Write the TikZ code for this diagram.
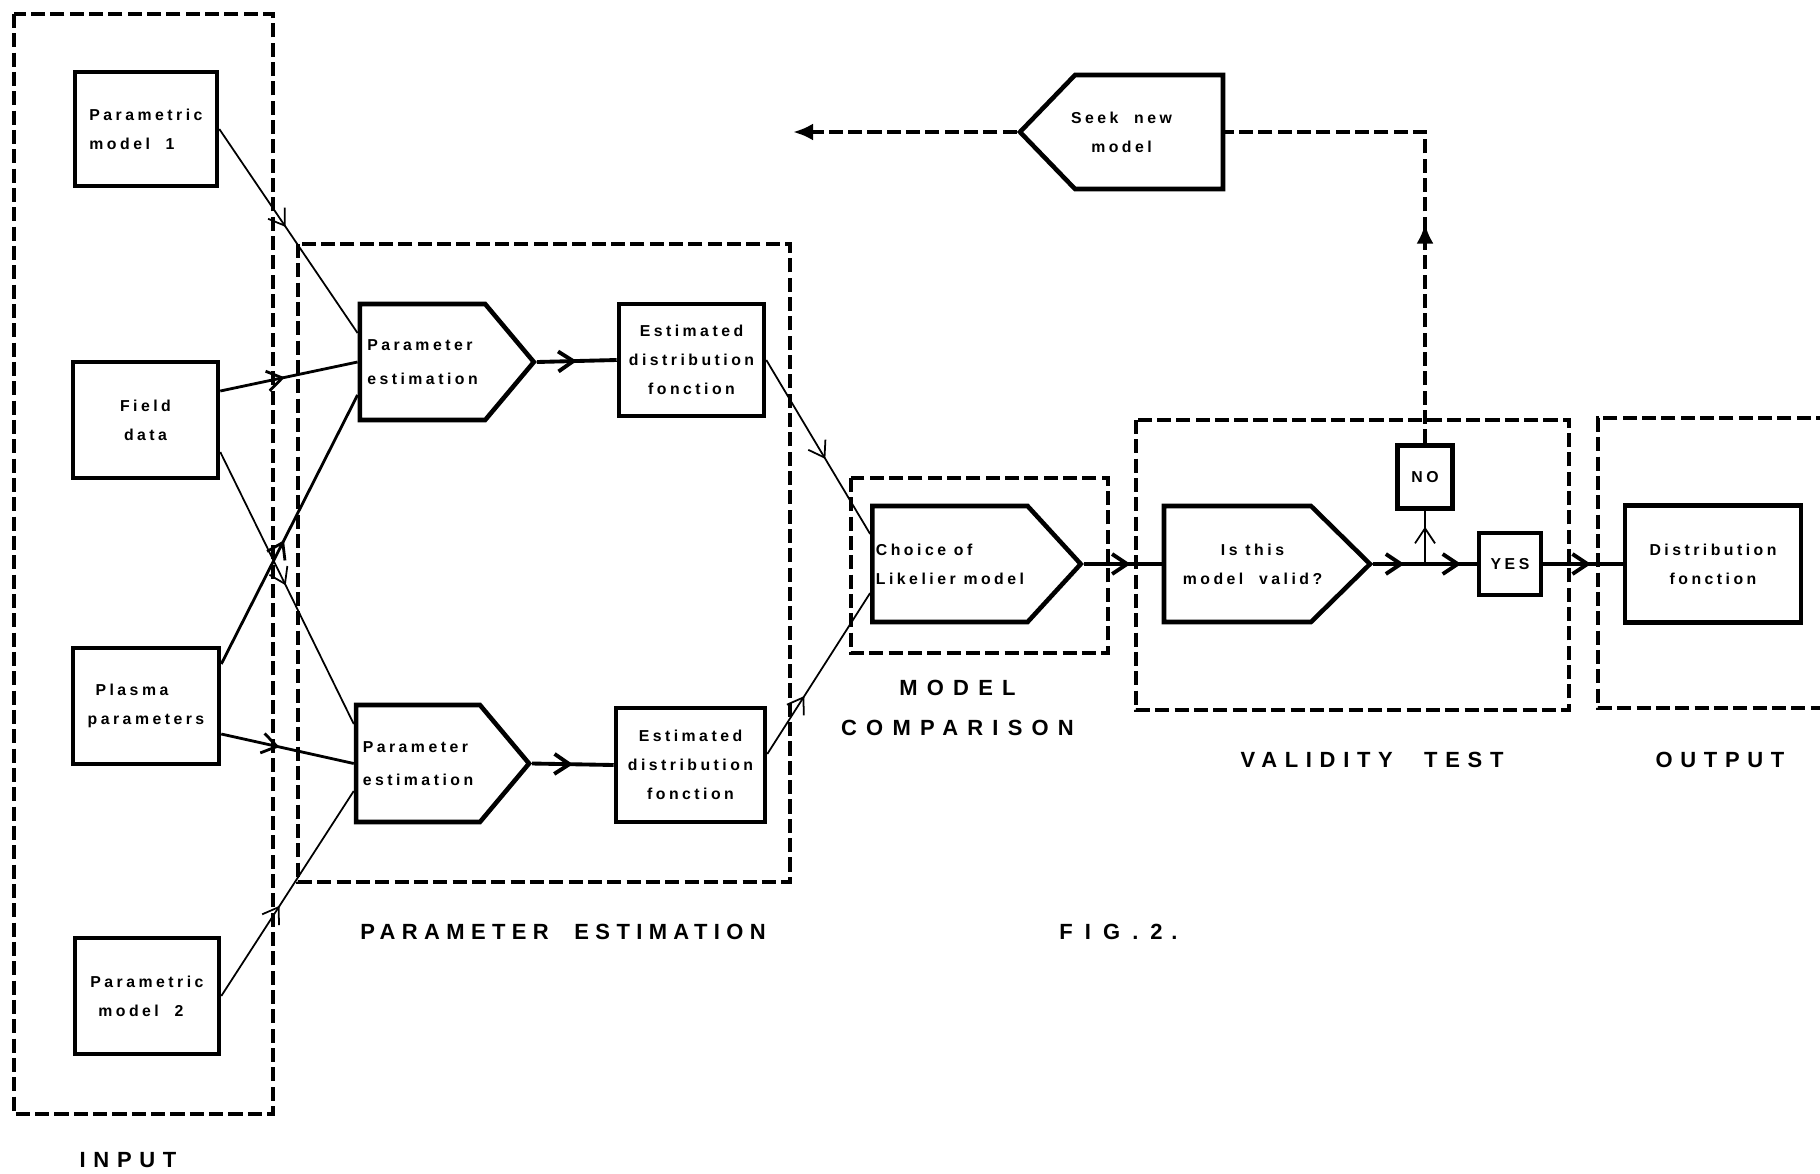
\documentclass[tikz,border=0pt]{standalone}
\usepackage{fontspec}
\setmainfont{Liberation Sans}
\newfontfamily\boxfont[LetterSpace=22]{Liberation Sans}
\newfontfamily\capfont[LetterSpace=35]{Liberation Sans}
\usetikzlibrary{arrows.meta,shapes.symbols,decorations.markings}

\tikzset{
  blk/.style={draw, line width=2.6pt, inner sep=2pt, align=center,
    font=\boxfont\bfseries\fontsize{9}{16.5}\selectfont},
  pent/.style={blk, signal, signal to=east, signal from=nowhere,
    signal pointer angle=95, align=left},
  grp/.style={line width=2.2pt, dash pattern=on 8pt off 3pt},
  thin/.style={line width=1pt},
  mid/.style={line width=1.6pt},
  heavy/.style={line width=2.2pt},
  midar/.style={postaction={decorate}, decoration={markings,
    mark=at position #1 with {\arrow{Straight Barb[length=3mm,width=4mm]}}}},
  upar/.style={postaction={decorate}, decoration={markings,
    mark=at position #1 with {\arrow{Latex[length=4mm,width=3.4mm]}}}},
  capt/.style={font=\capfont\bfseries\fontsize{12.5}{22.7}\selectfont,
    inner sep=0pt, align=center}
}

\begin{document}
\begin{tikzpicture}
    \useasboundingbox (0,0) rectangle (36.4,-23.46);
    % group frames
    \draw[grp] (0.28,-0.28) rectangle (5.46,-22.28);
    \draw[grp] (5.96,-4.88) rectangle (15.80,-17.64);
    \draw[grp] (17.02,-9.56) rectangle (22.16,-13.06);
    \draw[grp] (22.72,-8.40) rectangle (31.38,-14.20);
    \draw[grp] (36.6,-8.36) -- (31.96,-8.36) -- (31.96,-14.16) -- (36.6,-14.16);
    % input boxes
    \node[blk, align=left, minimum width=2.84cm, minimum height=2.28cm] (pm1) at (2.92,-2.58) {Parametric\\ model\ \ 1};
    \node[blk, minimum width=2.90cm, minimum height=2.32cm] (fd) at (2.91,-8.40) {Field\\ data};
    \node[blk, align=left, minimum width=2.92cm, minimum height=2.32cm] (pp) at (2.92,-14.12) {\ Plasma\\ parameters};
    \node[blk, align=left, minimum width=2.88cm, minimum height=2.32cm] (pm2) at (2.94,-19.92) {Parametric\\ \ model\ \ 2};
    % parameter estimation
    \node[pent, signal pointer angle=100, font=\boxfont\bfseries\fontsize{9}{19}\selectfont, minimum width=3.48cm, minimum height=2.32cm] (pe1) at (8.45,-7.24) {Parameter\\ estimation};
    \node[pent, signal pointer angle=100, font=\boxfont\bfseries\fontsize{9}{19}\selectfont, minimum width=3.46cm, minimum height=2.34cm] (pe2) at (8.36,-15.27) {Parameter\\ estimation};
    \node[blk, minimum width=2.90cm, minimum height=2.24cm] (est1) at (13.83,-7.20) {Estimated\\ distribution\\ fonction};
    \node[blk, minimum width=2.98cm, minimum height=2.28cm] (est2) at (13.81,-15.30) {Estimated\\ distribution\\ fonction};
    % comparison, test, output
    \node[pent, minimum width=4.00cm, minimum height=2.32cm] (choice) at (19.00,-11.28) {Choice of\\ Likelier model};
    \node[pent, signal pointer angle=89, align=center, minimum width=4.12cm, minimum height=2.32cm] (valid) at (24.75,-11.28) {Is this\hspace*{-0.6cm}\\ model\ \ valid?\hspace*{-0.6cm}};
    \node[blk, minimum width=1.10cm, minimum height=1.26cm] (no) at (28.50,-9.54) {NO};
    \node[blk, minimum width=1.24cm, minimum height=1.24cm] (yes) at (30.20,-11.28) {YES};
    \node[blk, minimum width=3.52cm, minimum height=2.34cm] (df) at (34.26,-11.28) {Distribution\\ fonction};
    \node[pent, signal to=west, signal pointer angle=92, align=center, minimum width=4.06cm, minimum height=2.28cm] (seek) at (22.98,-2.64) {\hspace*{-1.1cm}Seek\ \ new\\ \hspace*{-1.1cm}model};
    \coordinate (back) at (15.86,-2.64);
    \coordinate (jn) at (no.south |- valid.east);
    % connectors
    \draw[thin, midar=0.48] (pm1.east) -- ([yshift=0.58cm]pe1.west);
    \draw[mid, midar=0.47] ([yshift=0.58cm]fd.east) -- (pe1.west);
    \draw[thin, midar=0.49] ([yshift=-0.64cm]fd.east) -- ([yshift=0.79cm]pe2.west);
    \draw[mid, midar=0.46] ([yshift=0.84cm]pp.east) -- ([yshift=-0.66cm]pe1.west);
    \draw[mid, midar=0.44] ([yshift=-0.56cm]pp.east) -- (pe2.west);
    \draw[thin, midar=0.44] (pm2.east) -- ([yshift=-0.55cm]pe2.west);
    \draw[heavy, midar=0.5] (pe1.east) -- (est1.west);
    \draw[heavy, midar=0.5] (pe2.east) -- (est2.west);
    \draw[thin, midar=0.57] (est1.east) -- ([yshift=0.6cm]choice.west);
    \draw[thin, midar=0.36] ([yshift=0.22cm]est2.east) -- ([yshift=-0.58cm]choice.west);
    \draw[heavy, midar=0.6] (choice.east) -- (valid.west);
    \draw[heavy, midar=0.6] (valid.east) -- (jn);
    \draw[heavy, midar=0.7] (jn) -- (yes.west);
    \draw[thin, midar=0.7] (jn) -- (no.south);
    \draw[heavy, midar=0.6] (yes.east) -- (df.west);
    \draw[grp, upar=0.43] (no.north) |- (seek.east);
    \draw[grp, -{Latex[length=4mm,width=3.4mm]}] (seek.west) -- (back);
    % captions
    \node[capt] (lin) at (2.56,-23.20) {INPUT};
    \node[capt, font=\capfont\bfseries\fontsize{12.5}{15}\selectfont\addfontfeatures{LetterSpace=29}] (lpe) at (11.26,-18.64) {PARAMETER\hspace{0.6em} ESTIMATION};
    \node[capt, font=\capfont\bfseries\fontsize{12.5}{22.7}\selectfont\addfontfeatures{LetterSpace=42}] (lmc) at (19.15,-14.16) {MODEL\\ COMPARISON};
    \node[capt] (lvt) at (27.44,-15.20) {VALIDITY\hspace{0.8em} TEST};
    \node[capt] (lout) at (34.40,-15.20) {OUTPUT};
    \node[capt, font=\capfont\bfseries\fontsize{12.5}{15}\selectfont\addfontfeatures{LetterSpace=55}] (lfig) at (22.37,-18.64) {FIG.2\hspace{0.4em}.};
\end{tikzpicture}
\end{document}
